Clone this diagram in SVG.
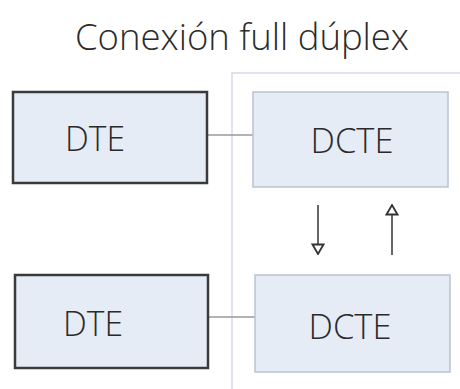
<svg xmlns="http://www.w3.org/2000/svg" width="460" height="389" viewBox="0 0 460 389">
<style>
.t{font-family:"Open Sans","Liberation Sans",sans-serif;font-weight:300;fill:#2a2a2a;text-anchor:middle}
.dte{fill:#e6ecf5;stroke:#3a3a3a;stroke-width:2.5}
.dcte{fill:#e6ecf5;stroke:#b9c3d1;stroke-width:1.5}
.con{stroke:#9a9a9a;stroke-width:1.5;fill:none}
.arr{stroke:#333;stroke-width:1.5;fill:none}
</style>
<defs>
<marker id="ah" viewBox="0 0 12 14" refX="11" refY="7" markerWidth="12" markerHeight="14" markerUnits="userSpaceOnUse" orient="auto">
<path d="M1.5,1.5 L11,7 L1.5,12.5 Z" fill="#fff" stroke="#333" stroke-width="1.8"/>
</marker>
</defs>
<rect width="460" height="389" fill="#fff"/>
<text class="t" x="242" y="50" font-size="36" textLength="334" lengthAdjust="spacingAndGlyphs">Conexión full dúplex</text>
<rect x="232" y="73" width="240" height="330" fill="none" stroke="#d5dce6" stroke-width="1.5"/>
<g id="connectors">
<line class="con" x1="208" y1="135" x2="253" y2="135"/>
<line class="con" x1="209" y1="317" x2="255" y2="317"/>
<line class="arr" x1="318" y1="205" x2="318" y2="254" marker-end="url(#ah)"/>
<line class="arr" x1="392" y1="255" x2="392" y2="205" marker-end="url(#ah)"/>
</g>
<g id="dte1">
<rect class="dte" x="13" y="92" width="194" height="91"/>
<text class="t" x="95" y="151" font-size="35" textLength="60" lengthAdjust="spacingAndGlyphs">DTE</text>
</g>
<g id="dcte1">
<rect class="dcte" x="253" y="92" width="195" height="95"/>
<text class="t" x="352" y="153" font-size="35" textLength="83" lengthAdjust="spacingAndGlyphs">DCTE</text>
</g>
<g id="dte2">
<rect class="dte" x="15" y="275" width="193" height="93"/>
<text class="t" x="93" y="336" font-size="35" textLength="60" lengthAdjust="spacingAndGlyphs">DTE</text>
</g>
<g id="dcte2">
<rect class="dcte" x="255" y="275" width="195" height="97"/>
<text class="t" x="350" y="339" font-size="35" textLength="83" lengthAdjust="spacingAndGlyphs">DCTE</text>
</g>
</svg>
